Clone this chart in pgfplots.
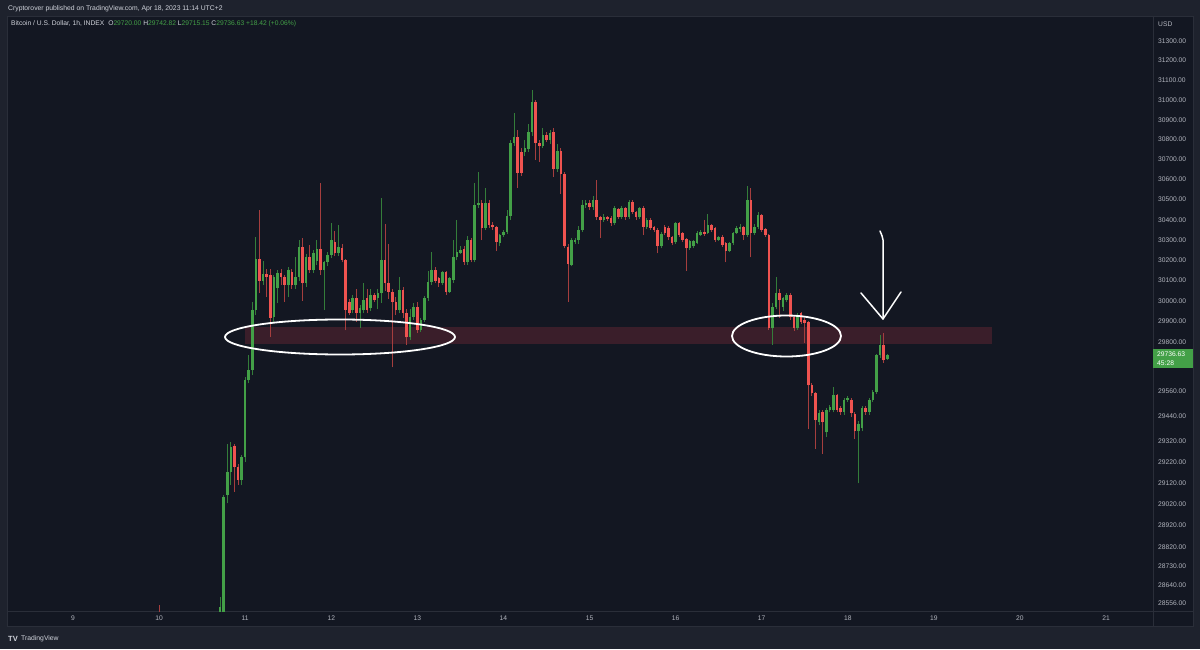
\documentclass[border=0pt]{standalone}
\usepackage{pgfplots}
\pgfplotsset{compat=1.18}
\usepackage{pgfplotstable}
\usepackage{fontspec}
\setmainfont{Liberation Sans}
\definecolor{outerbg}{RGB}{30,34,45}
\definecolor{chartbg}{RGB}{19,23,34}
\definecolor{frame}{RGB}{42,46,57}
\definecolor{txt}{RGB}{178,181,190}
\definecolor{hdr}{RGB}{209,212,220}
\definecolor{upc}{RGB}{67,160,71}
\definecolor{dnc}{RGB}{239,83,80}
\definecolor{upw}{RGB}{52,125,58}
\definecolor{dnw}{RGB}{165,62,62}
\definecolor{zone}{RGB}{58,30,42}
\definecolor{boxg}{RGB}{67,160,71}

% hourly OHLC candles, n = hours since Apr 10 00:00
\pgfplotstableread{
n O H L C
0 28470 28550 28400 28440
17 28500 28585 28470 28540
18 28480 29066 28460 29056
19 29066 29309 29027 29175
20 29175 29318 29113 29294
21 29299 29309 29080 29198
22 29198 29213 29113 29137
23 29137 29256 29113 29246
24 29246 29630 29222 29616
25 29616 29740 29600 29664
26 29664 29995 29640 29956
27 29956 30315 29930 30206
28 30206 30450 30039 30098
29 30098 30196 30078 30132
30 30132 30160 30020 30117
31 30127 30157 29825 29917
32 29922 30130 29900 30117
33 30064 30150 29990 30137
34 30137 30160 30080 30117
35 30117 30130 29995 30078
36 30078 30170 30020 30151
37 30142 30160 30060 30078
38 30078 30216 30060 30117
39 30117 30300 30100 30265
40 30265 30310 30000 30088
41 30088 30230 30070 30216
42 30216 30275 30140 30151
43 30151 30250 30140 30236
44 30196 30300 30180 30255
45 30255 30583 30127 30151
46 30151 30200 29956 30191
47 30191 30240 30170 30226
48 30226 30384 30210 30300
49 30290 30345 30220 30236
50 30236 30374 30220 30265
51 30260 30280 30190 30201
52 30201 30210 29858 29956
53 29995 30010 29930 29941
54 29956 30030 29940 30015
55 30015 30060 29900 29941
56 29941 29980 29870 29966
57 29956 30088 29940 30005
58 30015 30060 29940 29956
59 29966 30060 29950 30029
60 30029 30040 29995 30005
61 30015 30060 29960 30039
62 30039 30509 29990 30201
63 30201 30380 30050 30088
64 30088 30280 30010 30044
65 30044 30060 29679 29995
66 29995 30020 29930 29956
67 29956 30120 29940 30054
68 30054 30070 29920 29941
69 29941 29960 29785 29824
70 29824 29960 29810 29922
71 29922 29990 29910 29971
72 29971 29995 29845 29858
73 29858 29920 29850 29907
74 29907 30025 29900 30015
75 30015 30150 30000 30093
76 30093 30240 30080 30151
77 30151 30170 30090 30098
78 30113 30120 30070 30088
79 30088 30150 30080 30142
80 30142 30150 30030 30044
81 30044 30120 30040 30113
82 30103 30300 30090 30216
83 30216 30399 30200 30240
84 30236 30270 30230 30250
85 30255 30270 30180 30191
86 30191 30320 30180 30300
87 30300 30310 30190 30201
88 30201 30583 30190 30474
89 30474 30640 30460 30484
90 30484 30500 30300 30360
91 30360 30560 30350 30484
92 30484 30500 30360 30375
93 30375 30390 30350 30365
94 30365 30370 30245 30290
95 30285 30330 30270 30325
96 30325 30350 30315 30340
97 30340 30450 30330 30419
98 30419 30800 30400 30783
99 30783 30934 30770 30813
100 30813 30850 30560 30636
101 30738 30760 30620 30636
102 30740 30800 30720 30758
103 30753 30880 30740 30838
104 30838 31050 30820 30990
105 30990 31000 30700 30783
106 30783 30800 30690 30768
107 30768 30860 30760 30823
108 30823 30840 30790 30798
109 30798 30850 30780 30833
110 30838 30860 30615 30651
111 30651 30780 30640 30743
112 30743 30760 30530 30629
113 30629 30640 30260 30270
114 30265 30280 29995 30181
115 30176 30310 30170 30300
116 30290 30310 30280 30300
117 30300 30370 30280 30349
118 30349 30500 30340 30474
119 30474 30500 30460 30484
120 30484 30500 30450 30464
121 30464 30520 30450 30499
122 30499 30598 30400 30414
123 30414 30420 30310 30399
124 30399 30430 30390 30414
125 30414 30420 30395 30404
126 30409 30420 30370 30384
127 30384 30470 30375 30459
128 30454 30460 30405 30414
129 30414 30470 30405 30459
130 30459 30465 30400 30414
131 30414 30500 30405 30489
132 30489 30500 30430 30439
133 30439 30445 30400 30414
134 30414 30465 30405 30459
135 30459 30470 30325 30365
136 30365 30410 30355 30399
137 30399 30410 30350 30360
138 30365 30370 30340 30350
139 30350 30360 30235 30270
140 30270 30340 30260 30330
141 30365 30375 30325 30335
142 30360 30370 30300 30315
143 30315 30320 30275 30285
144 30290 30390 30280 30384
145 30384 30390 30315 30325
146 30335 30340 30290 30300
147 30305 30310 30150 30260
148 30260 30300 30250 30295
149 30270 30300 30260 30295
150 30285 30345 30280 30335
151 30325 30350 30320 30340
152 30340 30400 30320 30330
153 30335 30430 30330 30374
154 30374 30380 30340 30350
155 30360 30365 30290 30300
156 30300 30320 30295 30315
157 30315 30325 30265 30275
158 30285 30290 30190 30245
159 30245 30290 30240 30285
160 30285 30340 30275 30335
161 30335 30370 30330 30360
162 30355 30380 30340 30365
163 30365 30370 30300 30325
164 30325 30569 30315 30499
165 30499 30560 30215 30335
166 30335 30380 30325 30365
167 30365 30440 30355 30424
168 30424 30430 30340 30350
169 30355 30360 30315 30325
170 30325 30330 29860 29868
171 29868 29990 29785 29971
172 29971 30118 29960 30039
173 30039 30060 29920 30005
174 29971 30020 29950 30015
175 30005 30040 29995 30029
176 30029 30040 29910 29922
177 29922 29930 29855 29868
178 29868 29945 29860 29932
179 29941 29950 29890 29897
180 29907 29915 29795 29892
181 29897 29905 29379 29591
182 29591 29600 29540 29552
183 29552 29560 29287 29423
184 29413 29470 29400 29456
185 29461 29470 29260 29413
186 29364 29480 29342 29471
187 29471 29495 29460 29485
188 29471 29580 29460 29542
189 29542 29550 29460 29471
190 29480 29490 29450 29461
191 29461 29530 29450 29520
192 29520 29540 29510 29530
193 29520 29530 29440 29456
194 29456 29465 29332 29370
195 29370 29420 29122 29403
196 29384 29490 29370 29480
197 29480 29490 29450 29461
198 29461 29530 29450 29520
199 29520 29570 29510 29560
200 29560 29745 29550 29736
201 29736 29834 29725 29785
202 29785 29844 29700 29712
203 29720 29742.82 29715.15 29736.63
}\candles

\pgfplotsset{
  candlepart/.style={draw=none, fill=none, mark=none,
    error bars/y dir=plus, error bars/y explicit, error bars/error mark=none,
    error bars/draw error bar/.code 2 args={\draw ##1 -- ##2;}},
}

\begin{document}
\begin{tikzpicture}[x=1pt,y=1pt]
% backgrounds
\fill[outerbg] (0,0) rectangle (1200,649);
\fill[chartbg] (7,23) rectangle (1193,633);
\draw[frame, line width=0.8pt] (7,23) rectangle (1193,633);
\draw[frame, line width=0.8pt] (1153,23) -- (1153,633);
\draw[frame, line width=0.8pt] (7,38) -- (1193,38);

% price axis is logarithmic: plotted y = 10000*ln(price/30000)
\begin{axis}[
  at={(7pt,38pt)}, anchor=south west,
  scale only axis, width=1146pt, height=595pt,
  xmin=8.233, xmax=21.546,
  ymin=-505.8, ymax=465.0,
  axis line style={draw=frame, line width=0.8pt},
  axis background/.style={fill=chartbg},
  xtick={9,10,11,12,13,14,15,16,17,18,19,20,21},
  xticklabels={9,10,11,12,13,14,15,16,17,18,19,20,21},
  ytick={424.2,392.2,360.1,327.9,295.6,263.2,230.7,198.0,165.3,132.5,99.5,66.4,33.3,0,-33.4,-66.9,-147.8,-188.4,-229.3,-263.4,-297.7,-332.1,-366.6,-401.3,-432.6,-463.9,-493.3},
  yticklabels={31300.00,31200.00,31100.00,31000.00,30900.00,30800.00,30700.00,30600.00,30500.00,30400.00,30300.00,30200.00,30100.00,30000.00,29900.00,29800.00,29560.00,29440.00,29320.00,29220.00,29120.00,29020.00,28920.00,28820.00,28730.00,28640.00,28556.00},
  yticklabel pos=right,
  major tick length=0pt, minor tick num=0,
  tick style={draw=none},
  ticklabel style={font=\fontsize{6.7}{8}\selectfont, text=txt},
  yticklabel style={anchor=west, inner sep=0pt, xshift=5pt},
  xticklabel style={anchor=north, inner sep=0pt, yshift=-5pt},
  clip=true,
]
% support zone (29790 to 29873)
\fill[zone] (axis cs:11.0,-70.2) rectangle (axis cs:19.676,-42.4);
% wicks: from low up to high
\addplot[candlepart,
  restrict expr to domain={\thisrow{C}-\thisrow{O}}{0:100000},
  error bars/error bar style={line width=0.9pt, draw=upw}]
  table[x expr=10+\thisrow{n}/24,
        y expr={10000*ln(\thisrow{L}/30000)},
        y error expr={10000*ln(\thisrow{H}/\thisrow{L})}] {\candles};
\addplot[candlepart,
  restrict expr to domain={\thisrow{C}-\thisrow{O}}{-100000:-0.001},
  error bars/error bar style={line width=0.9pt, draw=dnw}]
  table[x expr=10+\thisrow{n}/24,
        y expr={10000*ln(\thisrow{L}/30000)},
        y error expr={10000*ln(\thisrow{H}/\thisrow{L})}] {\candles};
% bodies: from min(open,close) up to max(open,close)
\addplot[candlepart,
  restrict expr to domain={\thisrow{C}-\thisrow{O}}{0:100000},
  error bars/error bar style={line width=2.6pt, draw=upc}]
  table[x expr=10+\thisrow{n}/24,
        y expr={10000*ln(\thisrow{O}/30000)},
        y error expr={max(10000*ln(\thisrow{C}/\thisrow{O}),1.6)}] {\candles};
\addplot[candlepart,
  restrict expr to domain={\thisrow{C}-\thisrow{O}}{-100000:-0.001},
  error bars/error bar style={line width=2.6pt, draw=dnc}]
  table[x expr=10+\thisrow{n}/24,
        y expr={10000*ln(\thisrow{C}/30000)},
        y error expr={max(10000*ln(\thisrow{O}/\thisrow{C}),1.6)}] {\candles};
\end{axis}

% hand-drawn annotations
\draw[white, line width=1.8pt] (340,312) ellipse [x radius=115, y radius=17.5];
\draw[white, line width=1.8pt] (786.5,313) ellipse [x radius=54.5, y radius=20.5];
\draw[white, line width=1.5pt, line cap=round, line join=round]
  (880,418) .. controls (883.5,410) .. (883,395) -- (883,330);
\draw[white, line width=1.5pt, line cap=round, line join=round]
  (861,356) -- (883,330) -- (901,357);

% price scale extras
\node[anchor=west, inner sep=0pt, text=txt, font=\fontsize{6.7}{8}\selectfont] at (1158,625) {USD};
\fill[boxg] (1153,281) rectangle (1193,300);
\node[anchor=west, inner sep=0pt, text=white, font=\fontsize{6.7}{8}\selectfont] at (1157,294.5) {29736.63};
\node[anchor=west, inner sep=0pt, text=white, font=\fontsize{6.7}{8}\selectfont] at (1157,286) {45:28};

% header
\node[anchor=west, inner sep=0pt, text=hdr, font=\fontsize{6.8}{8}\selectfont] at (8,640)
  {Cryptorover published on TradingView.com, Apr 18, 2023 11:14 UTC+2};
\node[anchor=west, inner sep=0pt, text=hdr, font=\fontsize{6.7}{8}\selectfont] at (11,625)
  {Bitcoin / U.S. Dollar, 1h, INDEX\hspace{4pt}O\textcolor{upc}{29720.00} H\textcolor{upc}{29742.82} L\textcolor{upc}{29715.15} C\textcolor{upc}{29736.63} \textcolor{upc}{+18.42 (+0.06\%)}};

% footer
\node[anchor=west, inner sep=0pt, text=hdr, font=\bfseries\fontsize{7.5}{8}\selectfont] at (8,10) {TV};
\node[anchor=west, inner sep=0pt, text=hdr, font=\fontsize{6.8}{8}\selectfont] at (21,10) {TradingView};
\end{tikzpicture}
\end{document}
